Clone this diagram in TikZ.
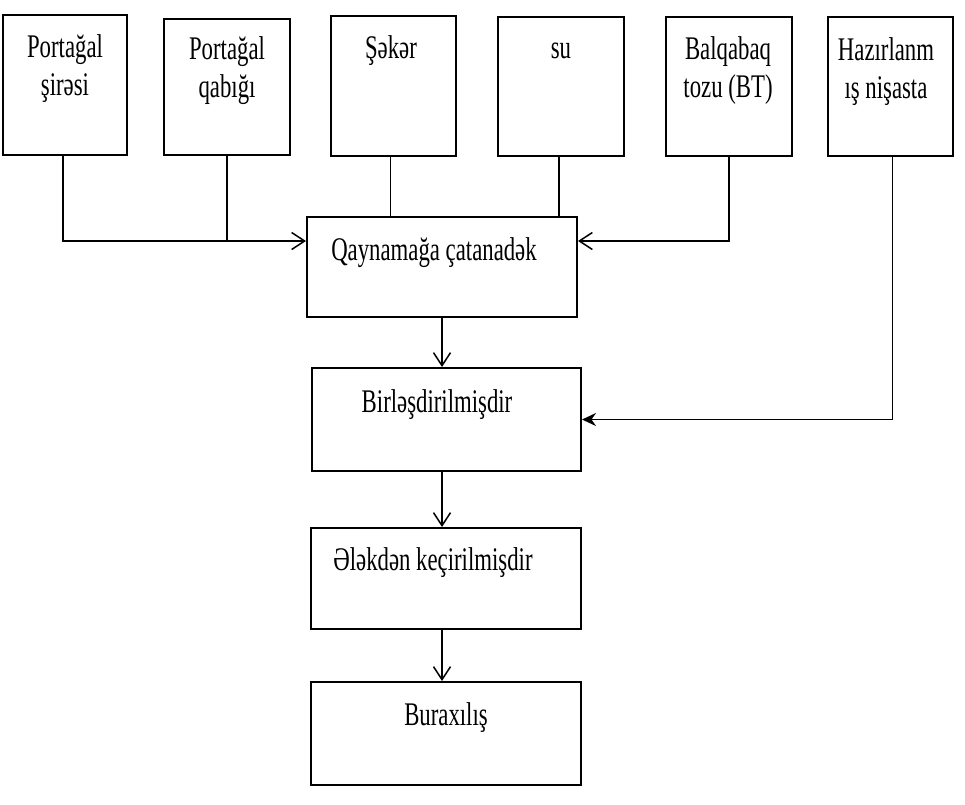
\documentclass[tikz,border=0pt]{standalone}
\usepackage{fontspec}
\setmainfont{Liberation Serif}[FakeStretch=0.69]
\usetikzlibrary{arrows.meta}
\begin{document}
\begin{tikzpicture}[x=1pt,y=-1pt,
  box/.style={draw, line width=2pt, inner sep=0pt},
  lbl/.style={font=\fontsize{33}{38}\selectfont, align=center, anchor=base, inner sep=0pt},
  conn/.style={line width=1.5pt},
  openarr/.style={conn, -{Straight Barb[length=13pt,width=17pt,line width=1.5pt]}},
  fillarr/.style={conn, -{Stealth[length=14pt,width=13pt]}}]
\useasboundingbox (0,0) rectangle (965,804);
% input boxes
\node[box, minimum width=124pt, minimum height=140pt] (b1) at (65,85) {};
\node[box, minimum width=126pt, minimum height=136pt] (b2) at (227,87) {};
\node[box, minimum width=125pt, minimum height=140pt] (b3) at (393.5,86) {};
\node[box, minimum width=126pt, minimum height=139pt] (b4) at (561,86.5) {};
\node[box, minimum width=126pt, minimum height=139pt] (b5) at (729,86.5) {};
\node[box, minimum width=125pt, minimum height=139pt] (b6) at (890.5,86.5) {};
% process boxes
\node[box, minimum width=270pt, minimum height=100pt] (q) at (442,267) {};
\node[box, minimum width=269pt, minimum height=103pt] (bl) at (446.5,419.5) {};
\node[box, minimum width=270pt, minimum height=101pt] (e) at (446,578.5) {};
\node[box, minimum width=270pt, minimum height=103pt] (br) at (446,733.5) {};
% labels (base = baseline of last line)
\node[lbl] (t1) at (65,95) {Portağal\\şirəsi};
\node[lbl] (t2) at (227,97) {Portağal\\qabığı};
\node[lbl] (t3) at (391,58) {Şəkər};
\node[lbl] (t4) at (561,58) {su};
\node[lbl] (t5) at (728,97) {Balqabaq\\tozu (BT)};
\node[lbl] (t6) at (886,98) {Hazırlanm\\ış nişasta};
\node[lbl] (tq) at (434,260) {Qaynamağa çatanadək};
\node[lbl] (tb) at (437,412) {Birləşdirilmişdir};
\node[lbl] (te) at (433,570) {Ələkdən keçirilmişdir};
\node[lbl] (tr) at (446,725) {Buraxılış};
% connectors
\coordinate (inL) at ([yshift=26pt]q.west);
\coordinate (inR) at ([yshift=26pt]q.east);
\draw[openarr] ([xshift=-2pt]b1.south) |- (inL);
\draw[conn] (b2.south) -- (b2.south |- inL);
\draw[conn] ([xshift=-3pt]b3.south) -- ([xshift=-3pt]b3.south |- q.north);
\draw[conn] ([xshift=-2pt]b4.south) -- ([xshift=-2pt]b4.south |- q.north);
\draw[openarr] (b5.south) |- (inR);
\draw[fillarr] ([xshift=2pt]b6.south) |- (bl.east);
\draw[openarr] (q.south) -- (q.south |- bl.north);
\draw[openarr] (bl.south -| q.south) -- (e.north -| q.south);
\draw[openarr] (e.south -| q.south) -- (br.north -| q.south);
\end{tikzpicture}
\end{document}
